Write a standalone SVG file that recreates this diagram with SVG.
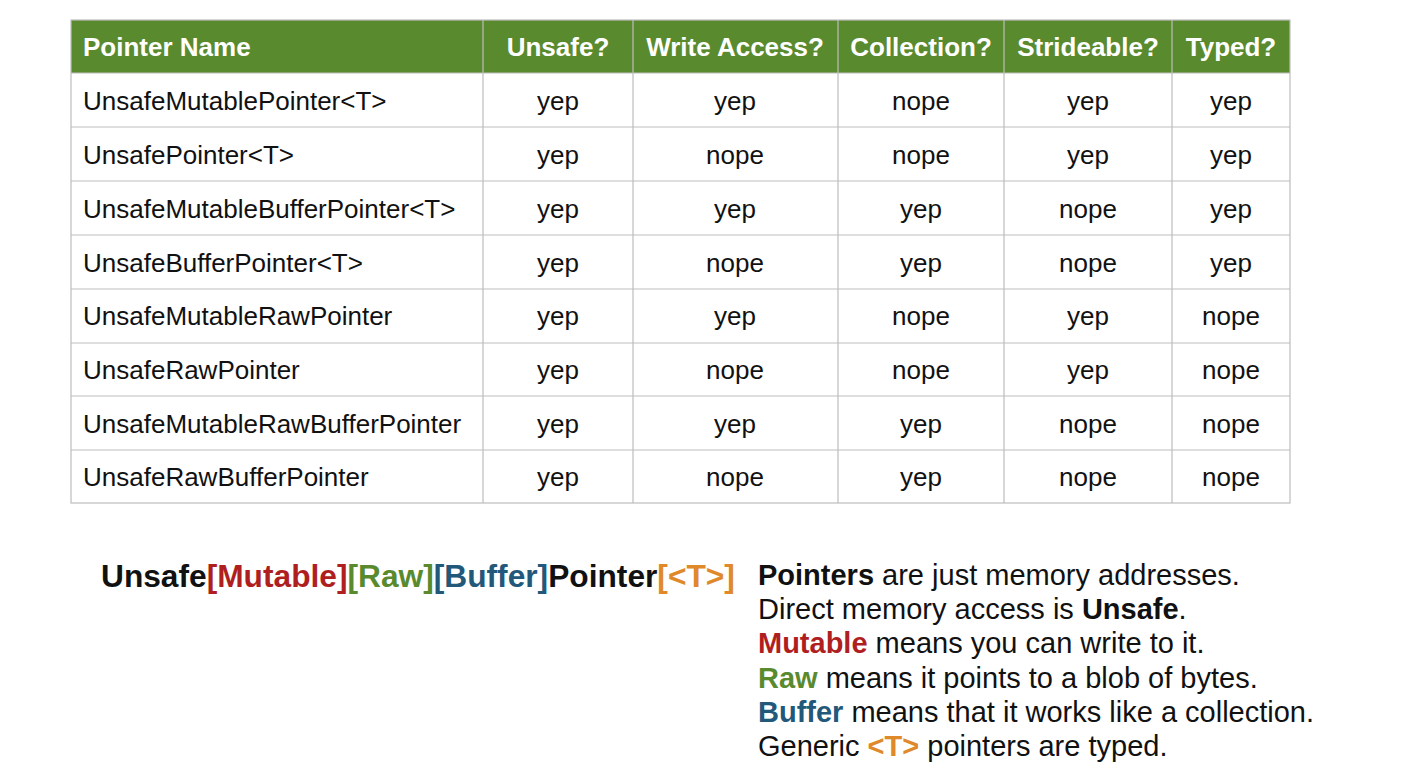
<svg xmlns="http://www.w3.org/2000/svg" width="1402" height="782" viewBox="0 0 1402 782">
<style>
.t{font-family:"Liberation Sans",Arial,Helvetica,sans-serif;font-size:26px;fill:#111}
.h{font-family:"Liberation Sans",Arial,Helvetica,sans-serif;font-size:26px;font-weight:bold;fill:#fff}
.c{text-anchor:middle}
.g{stroke:#bdbdbd;stroke-width:1.2;fill:none}
.b{font-family:"Liberation Sans",Arial,Helvetica,sans-serif;font-size:29px;fill:#111}
.bb{font-weight:bold}
.red{fill:#b01f1f}.grn{fill:#5a8a2e}.blu{fill:#22587a}.org{fill:#e0892a}
</style>
<rect width="1402" height="782" fill="#fff"/>
<g id="table">
<rect x="71" y="20" width="1219" height="53" fill="#5a8a2e"/>
<g class="g">
<rect x="71" y="20" width="1219" height="483"/>
<line x1="71" y1="73" x2="1290" y2="73"/>
<line x1="71" y1="127" x2="1290" y2="127"/>
<line x1="71" y1="181" x2="1290" y2="181"/>
<line x1="71" y1="235" x2="1290" y2="235"/>
<line x1="71" y1="289" x2="1290" y2="289"/>
<line x1="71" y1="343" x2="1290" y2="343"/>
<line x1="71" y1="396" x2="1290" y2="396"/>
<line x1="71" y1="450" x2="1290" y2="450"/>
<line x1="483" y1="20" x2="483" y2="503"/>
<line x1="633" y1="20" x2="633" y2="503"/>
<line x1="838" y1="20" x2="838" y2="503"/>
<line x1="1004" y1="20" x2="1004" y2="503"/>
<line x1="1172" y1="20" x2="1172" y2="503"/>
</g>
<text class="h" x="83" y="56">Pointer Name</text>
<text class="h c" x="558" y="56">Unsafe?</text>
<text class="h c" x="735" y="56">Write Access?</text>
<text class="h c" x="921" y="56">Collection?</text>
<text class="h c" x="1088" y="56">Strideable?</text>
<text class="h c" x="1231" y="56">Typed?</text>

<g id="r1"><text class="t" x="83" y="110">UnsafeMutablePointer&lt;T&gt;</text>
<text class="t c" x="558" y="110">yep</text><text class="t c" x="735" y="110">yep</text><text class="t c" x="921" y="110">nope</text><text class="t c" x="1088" y="110">yep</text><text class="t c" x="1231" y="110">yep</text></g>
<g id="r2"><text class="t" x="83" y="164">UnsafePointer&lt;T&gt;</text>
<text class="t c" x="558" y="164">yep</text><text class="t c" x="735" y="164">nope</text><text class="t c" x="921" y="164">nope</text><text class="t c" x="1088" y="164">yep</text><text class="t c" x="1231" y="164">yep</text></g>
<g id="r3"><text class="t" x="83" y="218">UnsafeMutableBufferPointer&lt;T&gt;</text>
<text class="t c" x="558" y="218">yep</text><text class="t c" x="735" y="218">yep</text><text class="t c" x="921" y="218">yep</text><text class="t c" x="1088" y="218">nope</text><text class="t c" x="1231" y="218">yep</text></g>
<g id="r4"><text class="t" x="83" y="272">UnsafeBufferPointer&lt;T&gt;</text>
<text class="t c" x="558" y="272">yep</text><text class="t c" x="735" y="272">nope</text><text class="t c" x="921" y="272">yep</text><text class="t c" x="1088" y="272">nope</text><text class="t c" x="1231" y="272">yep</text></g>
<g id="r5"><text class="t" x="83" y="325">UnsafeMutableRawPointer</text>
<text class="t c" x="558" y="325">yep</text><text class="t c" x="735" y="325">yep</text><text class="t c" x="921" y="325">nope</text><text class="t c" x="1088" y="325">yep</text><text class="t c" x="1231" y="325">nope</text></g>
<g id="r6"><text class="t" x="83" y="379">UnsafeRawPointer</text>
<text class="t c" x="558" y="379">yep</text><text class="t c" x="735" y="379">nope</text><text class="t c" x="921" y="379">nope</text><text class="t c" x="1088" y="379">yep</text><text class="t c" x="1231" y="379">nope</text></g>
<g id="r7"><text class="t" x="83" y="433">UnsafeMutableRawBufferPointer</text>
<text class="t c" x="558" y="433">yep</text><text class="t c" x="735" y="433">yep</text><text class="t c" x="921" y="433">yep</text><text class="t c" x="1088" y="433">nope</text><text class="t c" x="1231" y="433">nope</text></g>
<g id="r8"><text class="t" x="83" y="486">UnsafeRawBufferPointer</text>
<text class="t c" x="558" y="486">yep</text><text class="t c" x="735" y="486">nope</text><text class="t c" x="921" y="486">yep</text><text class="t c" x="1088" y="486">nope</text><text class="t c" x="1231" y="486">nope</text></g>
</g>
<g id="formula">
<text class="b bb" x="101" y="587" style="font-size:31.7px">Unsafe<tspan class="red">[Mutable]</tspan><tspan class="grn">[Raw]</tspan><tspan class="blu">[Buffer]</tspan>Pointer<tspan class="org">[&lt;T&gt;]</tspan></text>
</g>
<g id="legend">
<text class="b" x="758" y="585"><tspan class="bb">Pointers</tspan> are just memory addresses.</text>
<text class="b" x="758" y="619">Direct memory access is <tspan class="bb">Unsafe</tspan>.</text>
<text class="b" x="758" y="653"><tspan class="bb red">Mutable</tspan> means you can write to it.</text>
<text class="b" x="758" y="688"><tspan class="bb grn">Raw</tspan> means it points to a blob of bytes.</text>
<text class="b" x="758" y="722"><tspan class="bb blu">Buffer</tspan> means that it works like a collection.</text>
<text class="b" x="758" y="756">Generic <tspan class="bb org">&lt;T&gt;</tspan> pointers are typed.</text>
</g>
</svg>
